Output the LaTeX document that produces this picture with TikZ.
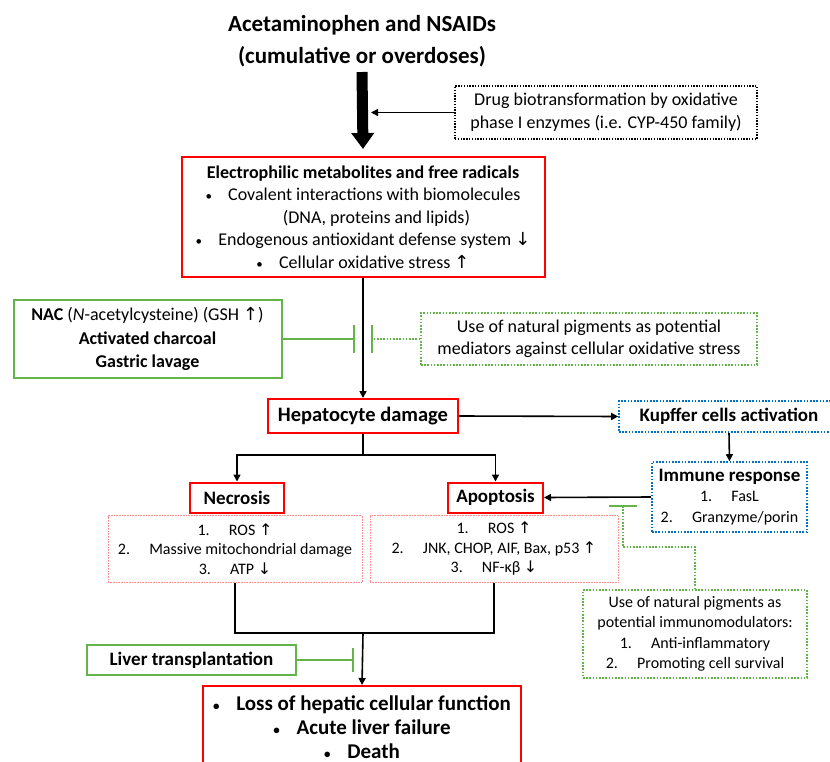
\documentclass[tikz,border=0pt]{standalone}
\usepackage{fontspec}
\setmainfont{Carlito}
\newfontfamily\symfont{DejaVu Sans}
\usetikzlibrary{arrows.meta}
\definecolor{boxred}{RGB}{255,0,0}
\definecolor{boxgreen}{RGB}{98,181,70}
\definecolor{boxblue}{RGB}{0,112,192}
\definecolor{listred}{RGB}{255,140,140}
\newcommand{\incr}{{\symfont\char"2191}}
\newcommand{\decr}{{\symfont\char"2193}}
\newcommand{\bul}{{\fontsize{13}{13}\selectfont\textbullet}}
\tikzstyle{every node}=[inner sep=0pt, align=center]
\tikzstyle{redbox}=[draw=boxred, line width=2pt]
\tikzstyle{greenbox}=[draw=boxgreen, line width=2pt]
\tikzstyle{greendots}=[draw=boxgreen, line width=1.6pt, dash pattern=on 1.6pt off 1.6pt]
\tikzstyle{bluedots}=[draw=boxblue, line width=1.6pt, dash pattern=on 1.6pt off 1.6pt]
\tikzstyle{blackdots}=[draw=black, line width=1.4pt, dash pattern=on 1.4pt off 1.4pt]
\tikzstyle{listbox}=[draw=listred, line width=0.8pt, dash pattern=on 1pt off 0.6pt]
\tikzstyle{link}=[line width=1.6pt, -{Triangle[length=7pt, width=7pt]}]
\tikzstyle{block}=[draw=boxgreen, line width=1.6pt, -{Bar[width=28pt, line width=2pt]}]
\tikzstyle{blockdots}=[block, dash pattern=on 1.6pt off 1.6pt]

\begin{document}
\begin{tikzpicture}[x=1pt, y=-1pt]
    \useasboundingbox (0,0) rectangle (830,762);
    \clip (0,0) rectangle (830,762);
% Causes and metabolism
    \node[font=\fontsize{23}{32}\selectfont\bfseries] (drugs) at (362,41) {Acetaminophen and NSAIDs\\(cumulative or overdoses)};
    \node[blackdots, minimum width=302, minimum height=53, font=\fontsize{18}{23}\selectfont] (cyp) at (606,112.5) {Drug biotransformation by oxidative\\phase I enzymes (i.e. CYP-450 family)};
    \node[redbox, minimum width=363, minimum height=120, font=\fontsize{18}{22.5}\selectfont] (metab) at (363,217) {\textbf{Electrophilic metabolites and free radicals}\\\bul\hspace{0.9em}Covalent interactions with biomolecules\\\hspace*{1.5em}(DNA, proteins and lipids)\\\bul\hspace{0.9em}Endogenous antioxidant defense system \decr\\\bul\hspace{0.9em}Cellular oxidative stress \incr};
% Treatments
    \node[greenbox, minimum width=268, minimum height=78, font=\fontsize{18}{23.5}\selectfont] (nac) at (147.5,339) {\textbf{NAC} (\textit{N}-acetylcysteine) (GSH \incr)\\\textbf{Activated charcoal}\\\textbf{Gastric lavage}};
    \node[greendots, minimum width=336, minimum height=52, font=\fontsize{18}{22}\selectfont] (pigment) at (589,339) {Use of natural pigments as potential\\mediators against cellular oxidative stress};
% Damage
    \node[redbox, minimum width=190, minimum height=34, font=\fontsize{20.5}{24}\selectfont\bfseries] (hepato) at (363,416) {Hepatocyte damage};
    \node[bluedots, minimum width=220, minimum height=31, font=\fontsize{19}{23}\selectfont\bfseries] (kupffer) at (729,416.5) {Kupffer cells activation};
    \node[bluedots, minimum width=155, minimum height=70, font=\fontsize{16}{20.5}\selectfont] (immune) at (729.5,497) {{\fontsize{19}{21}\selectfont\bfseries Immune response}\\1.\hspace{1.2em}FasL\\2.\hspace{1.2em}Granzyme/porin};
    \node[redbox, minimum width=94, minimum height=30, font=\fontsize{19}{23}\selectfont\bfseries] (necrosis) at (237,497.5) {Necrosis};
    \node[redbox, minimum width=95, minimum height=30, font=\fontsize{19}{23}\selectfont\bfseries] (apoptosis) at (495.5,497.5) {Apoptosis};
    \node[listbox, minimum width=254, minimum height=67, font=\fontsize{16}{19.5}\selectfont] (necrolist) at (235,549) {1.\hspace{1.2em}ROS \incr\\2.\hspace{1.2em}Massive mitochondrial damage\\3.\hspace{1.2em}ATP \decr};
    \node[listbox, minimum width=248, minimum height=67, font=\fontsize{16}{19.5}\selectfont] (apoptosislist) at (494,549) {1.\hspace{1.2em}ROS \incr\\2.\hspace{1.2em}JNK, CHOP, AIF, Bax, p53 \incr\\3.\hspace{1.2em}NF-κβ \decr};
    \node[greendots, minimum width=224, minimum height=88, font=\fontsize{16}{20.5}\selectfont] (immpigment) at (695,634) {Use of natural pigments as\\potential immunomodulators:\\1.\hspace{1.2em}Anti-inflammatory\\2.\hspace{1.2em}Promoting cell survival};
    \node[greenbox, minimum width=209, minimum height=30, font=\fontsize{19}{23}\selectfont\bfseries] (transplant) at (191.5,660) {Liver transplantation};
    \node[redbox, minimum width=318, minimum height=82, font=\fontsize{21}{24}\selectfont\bfseries] (failure) at (362,727) {\bul\hspace{0.8em}Loss of hepatic cellular function\\\bul\hspace{0.8em}Acute liver failure\\\bul\hspace{0.8em}Death};
% Arrows
    \draw[line width=11pt, -{Triangle[width=22pt, length=16pt]}] ([yshift=-5pt]drugs.south) -- ([yshift=7pt]metab.north);
    \coordinate (cypend) at (371,112.5);
    \draw[link] (cyp.west) -- (cypend);
    \draw[link] (metab.south) -- (hepato.north);
    \draw[link] (hepato.east) -- (kupffer.west);
    \draw[link] (kupffer.south) -- (immune.north);
    \draw[link] (immune.west) -- (apoptosis.east);
    \coordinate (split) at (363,455);
    \draw[line width=1.6pt] (hepato.south) -- (split);
    \draw[link] (split) -| (necrosis.north);
    \draw[link] (split) -| (apoptosis.north);
    \coordinate (merge) at (363,633);
    \draw[line width=1.6pt] (necrolist.south) |- (merge) -| (apoptosislist.south);
    \draw[link] (merge) -- (failure.north);
% Inhibitions
    \coordinate (nacbar) at (355,339);
    \coordinate (pigbar) at (371,339);
    \coordinate (immbar) at (623,505);
    \coordinate (livbar) at (354,660);
    \draw[block] (nac.east) -- (nacbar);
    \draw[blockdots] (pigment.west) -- (pigbar);
    \draw[blockdots] (immpigment.north) -- ++(0,-42) -| (immbar);
    \draw[block, -{Bar[width=24pt, line width=2pt]}] (transplant.east) -- (livbar);
\end{tikzpicture}
\end{document}
